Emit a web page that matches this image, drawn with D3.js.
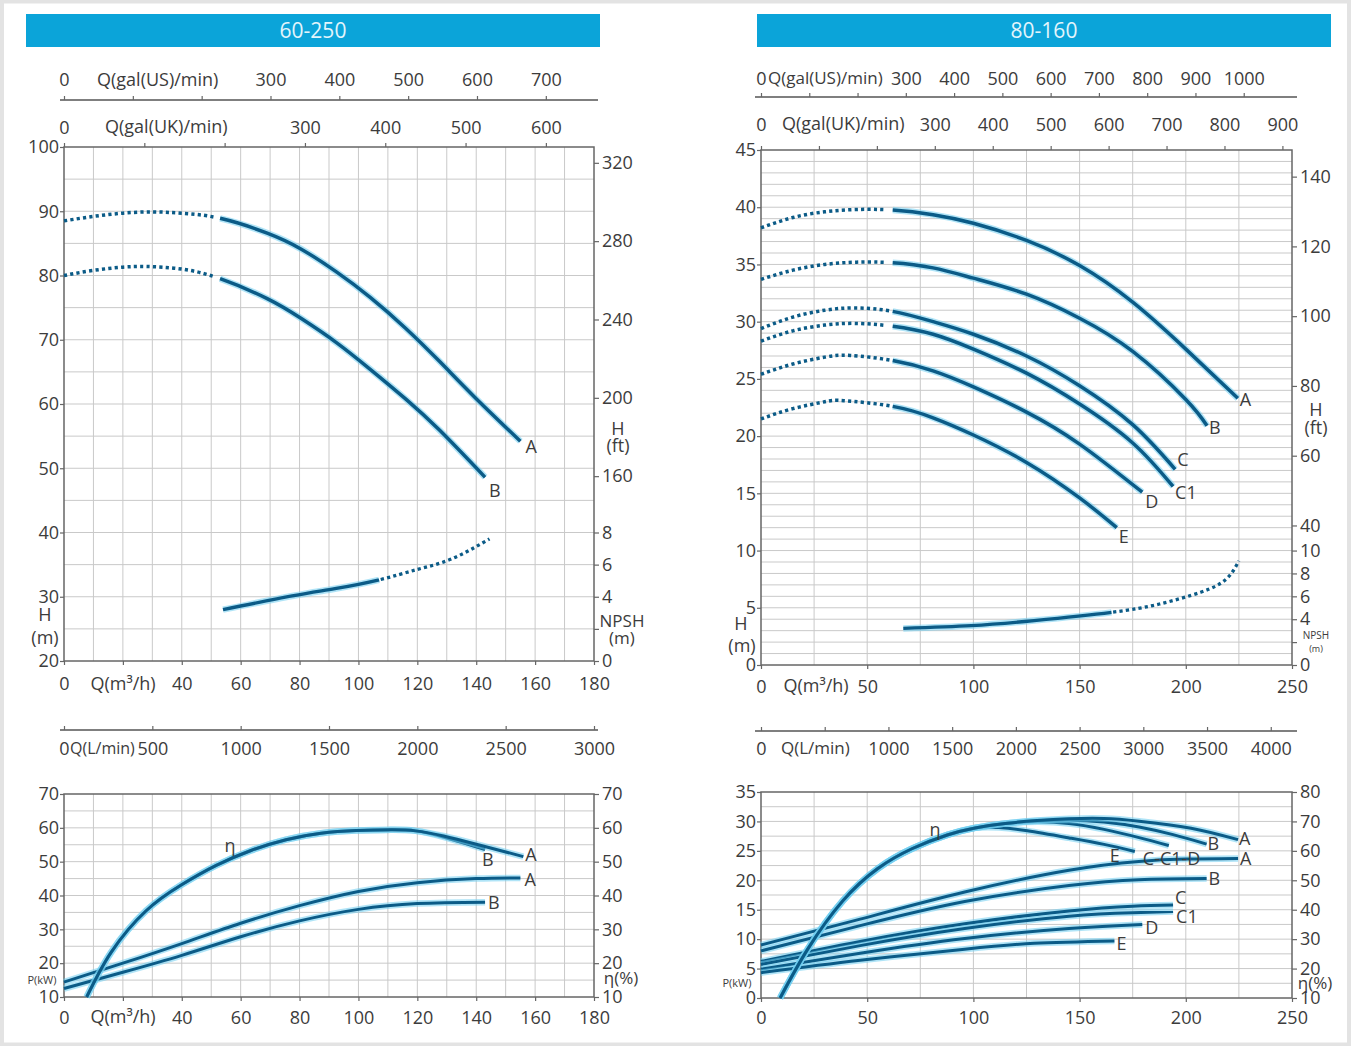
<!DOCTYPE html>
<html><head><meta charset="utf-8">
<script src="https://cdnjs.cloudflare.com/ajax/libs/d3/7.8.5/d3.min.js"></script>
<style>
html,body{margin:0;padding:0;background:#fff;}
svg{display:block;}
text{font-family:"Open Sans","DejaVu Sans",sans-serif;fill:#3c3c3c;}
.tk text{font-size:18px;}
</style></head><body>
<svg id="c" width="1353" height="1046"></svg>
<script>
// ---------------- DATA ----------------
const titles = ["60-250", "80-160"];

// Left panel (60-250) – H-Q
const lt_qTicks = [0,20,40,60,80,100,120,140,160,180];
const lt_hTicks = [20,30,40,50,60,70,80,90,100];
const lt_ftTicks = [160,200,240,280,320];
const lt_npshTicks = [0,2,4,6,8];
const lt_usTicks = [0,100,200,300,400,500,600,700];
const lt_ukTicks = [0,100,200,300,400,500,600];
const lt_A_dot = [[0,88.5],[10,89.2],[20,89.7],[30,89.9],[40,89.7],[53,88.9]];
const lt_A = [[53,88.9],[69,86.6],[80.6,84.1],[92.4,80.6],[104,76.6],[116,71.8],[127.6,66.6],[139.4,61.1],[155,54.2]];
const lt_B_dot = [[0,80.0],[10,80.8],[20,81.3],[28,81.4],[40,81.0],[53,79.5]];
const lt_B = [[53,79.5],[69,76.4],[80.6,73.3],[92.4,69.6],[104,65.4],[116,60.8],[127.6,55.9],[143,48.6]];
const lt_npsh = [[54,3.2],[77.5,4.05],[92,4.5],[107,5.05]];
const lt_npsh_dot = [[107,5.05],[120,5.7],[131.6,6.35],[144.5,7.6]];

// Left panel – P / eta
const lb_pTicks = [10,20,30,40,50,60,70];
const lb_etaTicks = [10,20,30,40,50,60,70];
const lb_lminTicks = [0,500,1000,1500,2000,2500,3000];
const lb_eta = [[7.7,10],[16,23.2],[27.9,35.5],[39.8,43.1],[51.7,48.9],[63.5,53.3],[75.4,56.5],[87.3,58.4],[99.2,59.2],[111,59.4],[119.4,59.1]];
const lb_eta_A = [[119.4,59.1],[128.9,57.6],[140.7,55.0],[156,51.5]];
const lb_eta_B = [[119.4,59.1],[130,57.0],[143,53.6]];
const lb_P_A = [[0,14.4],[20,20.0],[40,25.8],[60,31.8],[80,37.0],[100,41.2],[120,43.8],[140,45.0],[155,45.2]];
const lb_P_B = [[0,12.5],[20,17.3],[40,22.3],[60,27.8],[80,32.5],[100,35.9],[120,37.6],[143,38.0]];

// Right panel (80-160) – H-Q
const rt_qTicks = [0,50,100,150,200,250];
const rt_hTicks = [0,5,10,15,20,25,30,35,40,45];
const rt_ftTicks = [40,60,80,100,120,140];
const rt_npshTicks = [0,2,4,6,8,10];
const rt_usTicks = [0,100,200,300,400,500,600,700,800,900,1000];
const rt_ukTicks = [0,100,200,300,400,500,600,700,800,900];
const rt_A_dot = [[0,38.2],[15,39.1],[30,39.6],[45,39.8],[62,39.75]];
const rt_A = [[62,39.75],[81,39.35],[100,38.6],[125,37.1],[150,34.9],[175,31.7],[200,27.6],[224.5,23.3]];
const rt_B_dot = [[0,33.7],[15,34.5],[30,35.0],[45,35.2],[62,35.15]];
const rt_B = [[62,35.15],[81,34.7],[100,33.8],[125,32.4],[150,30.3],[175,27.4],[200,23.2],[210,20.9]];
const rt_C_dot = [[0,29.4],[15,30.4],[30,31.0],[44,31.2],[62,30.9]];
const rt_C = [[62,30.9],[81,30.0],[100,28.9],[125,27.0],[150,24.4],[175,21.0],[195,17.1]];
const rt_C1_dot = [[0,28.3],[15,29.2],[30,29.7],[44,29.85],[62,29.6]];
const rt_C1 = [[62,29.6],[81,28.9],[100,27.6],[125,25.5],[150,22.8],[175,19.4],[194,15.6]];
const rt_D_dot = [[0,25.4],[15,26.3],[30,26.9],[42,27.05],[62,26.6]];
const rt_D = [[62,26.6],[81,25.7],[100,24.3],[125,22.1],[150,19.3],[179.5,15.1]];
const rt_E_dot = [[0,21.5],[15,22.4],[30,23.0],[39,23.1],[62,22.6]];
const rt_E = [[62,22.6],[81,21.6],[100,20.1],[125,17.7],[150,14.6],[167.5,12.0]];
const rt_npsh = [[67,3.2],[99,3.44],[128.6,3.88],[165,4.6]];
const rt_npsh_dot = [[165,4.6],[187.6,5.33],[207,6.36],[219,7.5],[225,9.1]];

// Right panel – P / eta
const rb_pTicks = [0,5,10,15,20,25,30,35];
const rb_etaTicks = [10,20,30,40,50,60,70,80];
const rb_lminTicks = [0,500,1000,1500,2000,2500,3000,3500,4000];
const rb_eta = [[9,10],[22,26.6],[38.5,43],[55,54],[71.3,60.8],[87.7,65.4],[100.8,67.8],[115,69.3]];
const rb_eta_A = [[115,69.3],[130,70.3],[145,70.9],[161.5,71.0],[178,70.1],[202.5,67.7],[224.6,63.8]];
const rb_eta_B = [[115,69.3],[130,70.2],[145,70.5],[161.5,69.8],[178,68.1],[194,65.5],[209.8,62.3]];
const rb_eta_CD = [[115,69.3],[130,69.9],[145,69.3],[161.5,67.3],[178,64.5],[192,61.8]];
const rb_eta_E = [[100.8,67.8],[112,67.9],[125.4,66.8],[145,64.4],[161.5,62.2],[176,59.8]];
const rb_P_A = [[0,9.0],[46.7,13.4],[95.9,18.0],[145,21.7],[177.9,23.2],[200,23.6],[224.6,23.7]];
const rb_P_B = [[0,8.0],[46.7,12.3],[95.9,16.4],[145,19.1],[177.9,20.1],[209.8,20.3]];
const rb_P_C = [[0,6.2],[46.7,9.6],[95.9,12.6],[145,14.8],[175,15.6],[194,15.8]];
const rb_P_C1 = [[0,5.7],[46.7,8.9],[95.9,11.8],[145,13.9],[175,14.5],[194,14.7]];
const rb_P_D = [[0,4.9],[46.7,7.6],[95.9,10.1],[145,11.8],[179.5,12.5]];
const rb_P_E = [[0,4.3],[46.7,6.4],[95.9,8.3],[128.7,9.3],[166.4,9.7]];

// unit conversions
const M3H_TO_UKGPM = 3.6662, M3H_TO_LMIN = 16.6667, M_TO_FT = 3.2808;
const lt_usMax = 770, rt_usMax = 1100;   // gal(US)/min at right end of the flow axis

// ---------------- DRAW ----------------
const svg = d3.select("#c");
svg.append("rect").attr("width",1353).attr("height",1046).attr("fill","#fff");
svg.append("rect").attr("x",2).attr("y",1.5).attr("width",1347).attr("height",1043)
  .attr("fill","none").attr("stroke","#e3e3e3").attr("stroke-width",4);

const DARK = "#0b5b87", GLOW = "#6fcdf0", GRID = "#c9c9c9", AX = "#666";
const fmt = d3.format("d");

function title(x, w, t){
  svg.append("rect").attr("x",x).attr("y",14).attr("width",w).attr("height",33).attr("fill","#0ba4d9");
  svg.append("text").attr("x",x+w/2).attr("y",38).attr("text-anchor","middle")
    .style("font-size","21px").style("fill","#e2f5fc").text(t);
}
function grid(x, y, xStep, yStep){
  const g = svg.append("g");
  const [x0,x1] = x.domain(), [y0,y1] = y.domain();
  for(let v=x0+xStep; v<x1-1e-6; v+=xStep)
    g.append("line").attr("x1",x(v)).attr("x2",x(v)).attr("y1",y(y0)).attr("y2",y(y1)).attr("stroke",GRID).attr("stroke-width",1);
  for(let v=y0+yStep; v<y1-1e-6; v+=yStep)
    g.append("line").attr("x1",x(x0)).attr("x2",x(x1)).attr("y1",y(v)).attr("y2",y(v)).attr("stroke",GRID).attr("stroke-width",1);
  g.append("rect").attr("x",x(x0)).attr("y",y(y1)).attr("width",x(x1)-x(x0)).attr("height",y(y0)-y(y1))
    .attr("fill","none").attr("stroke",AX).attr("stroke-width",1.5);
}
function styleAx(g){
  g.attr("class","tk").attr("font-family",null).attr("font-size",null);
  g.select(".domain").remove();
  g.selectAll(".tick line").attr("stroke",AX).attr("stroke-width",1.2);
  return g;
}
function axis(gen, tx, ty){
  return styleAx(svg.append("g").attr("transform",`translate(${tx},${ty})`).call(gen));
}
function hline(x1,x2,y){ svg.append("line").attr("x1",x1).attr("x2",x2).attr("y1",y).attr("y2",y).attr("stroke","#555").attr("stroke-width",1.6); }
function txt(x,y,t,size,anchor){
  return svg.append("text").attr("x",x).attr("y",y).attr("text-anchor",anchor||"middle").style("font-size",(size||18)+"px").text(t);
}
function lenAtX(node, xt){
  let lo=0, hi=node.getTotalLength();
  for(let i=0;i<40;i++){ const m=(lo+hi)/2; if(node.getPointAtLength(m).x < xt) lo=m; else hi=m; }
  return lo;
}
// draws one smooth curve made of two consecutive pieces; the dotted piece is first or second
function curve2(first, second, x, y, firstDotted, secondDotted){
  const data = first.concat(second.slice(1));
  const line = d3.line().x(d=>x(d[0])).y(d=>y(d[1])).curve(d3.curveNatural);
  const d = line(data);
  const glow = svg.append("path").attr("d",d).attr("fill","none").attr("stroke",GLOW)
      .attr("stroke-width",6.5).attr("opacity",0.55);
  const main = svg.append("path").attr("d",d).attr("fill","none").attr("stroke",DARK).attr("stroke-width",3);
  const node = main.node(), total = node.getTotalLength();
  const L1 = lenAtX(node, x(second[0][0]));
  if(firstDotted){
    const arr=[]; let s=0;
    while(s+6.4<=L1){ arr.push(3.2,3.2); s+=6.4; }
    arr.push(0, L1-s, total+20, 0);
    main.attr("stroke-dasharray",arr.join(",")).attr("stroke-width",3.5);
    glow.attr("stroke-dasharray",`0,${L1},${total+20},0`);
  } else if(secondDotted){
    const arr=[L1,1.6]; let s=L1+1.6;
    while(s<total+10){ arr.push(3.2,3.2); s+=6.4; }
    main.attr("stroke-dasharray",arr.join(",")).attr("stroke-width",3.3);
    glow.attr("stroke-dasharray",`${L1},${total+20}`);
  }
}
function curve(data, x, y){ curve2(data.slice(0,1), data, x, y, false, false); }
function endLabel(data, x, y, t, dx, dy){
  const p = data[data.length-1];
  txt(x(p[0])+dx, y(p[1])+dy, t, 18, "start");
}
function branch(main, br){ return main.filter(d=>d[0] < br[0][0]).concat(br); }

// ===== LEFT TOP =====
title(26, 574, titles[0]);
const xL = d3.scaleLinear([0,180],[64,594]);
const yLT = d3.scaleLinear([20,100],[661,147]);
const ftLT = d3.scaleLinear([20*M_TO_FT,100*M_TO_FT],[661,147]);
const npLT = d3.scaleLinear([0,8],[yLT(20),yLT(40)]);
const usL = d3.scaleLinear([0,lt_usMax],[64,594]);
const ukL = d3.scaleLinear([0,180*M3H_TO_UKGPM],[64,594]);
grid(xL, yLT, 10, 5);
hline(60,598,100);
axis(d3.axisTop(usL).tickValues(lt_usTicks).tickSize(4).tickPadding(10).tickFormat(d=>(d===100||d===200)?"":fmt(d)),0,100);
txt(97,86,"Q(gal(US)/min)",18,"start");
axis(d3.axisTop(ukL).tickValues(lt_ukTicks).tickSize(4).tickPadding(9).tickFormat(d=>(d===100||d===200)?"":fmt(d)),0,147);
txt(105,133,"Q(gal(UK)/min)",18,"start");
axis(d3.axisLeft(yLT).tickValues(lt_hTicks).tickSize(4).tickPadding(1),64,0);
axis(d3.axisRight(ftLT).tickValues(lt_ftTicks).tickSize(5).tickPadding(3),594,0);
axis(d3.axisRight(npLT).tickValues(lt_npshTicks).tickSize(5).tickPadding(3).tickFormat(d=>d===2?"":fmt(d)),594,0);
axis(d3.axisBottom(xL).tickValues(lt_qTicks).tickSize(4).tickPadding(12).tickFormat(d=>d===20?"":fmt(d)),0,661);
txt(123,690,"Q(m³/h)",18);
txt(45,621,"H",18); txt(45,644,"(m)",18);
txt(618,435,"H",18); txt(618,452,"(ft)",18);
txt(622,627,"NPSH",17); txt(622,644,"(m)",17);
curve2(lt_A_dot, lt_A, xL, yLT, true, false);
curve2(lt_B_dot, lt_B, xL, yLT, true, false);
curve2(lt_npsh, lt_npsh_dot, xL, npLT, false, true);
endLabel(lt_A,xL,yLT,"A",5,12);
endLabel(lt_B,xL,yLT,"B",4,20);

// ===== LEFT BOTTOM =====
const yLB = d3.scaleLinear([10,70],[997,794]);
const etaLB = d3.scaleLinear([10,70],[997,794]);
const lminL = d3.scaleLinear([0,180*M3H_TO_LMIN],[64,594]);
grid(xL, yLB, 10, 5);
hline(60,598,730);
axis(d3.axisBottom(lminL).tickValues(lb_lminTicks).tickSize(-4).tickPadding(12).tickFormat(fmt),0,730);
txt(70,754,"Q(L/min)",16,"start");
axis(d3.axisLeft(yLB).tickValues(lb_pTicks).tickSize(4).tickPadding(1),64,0);
axis(d3.axisRight(etaLB).tickValues(lb_etaTicks).tickSize(5).tickPadding(3),594,0);
axis(d3.axisBottom(xL).tickValues(lt_qTicks).tickSize(4).tickPadding(10).tickFormat(d=>d===20?"":fmt(d)),0,997);
txt(123,1023,"Q(m³/h)",18);
txt(42,984,"P(kW)",11);
txt(621,984,"η(%)",17);
curve(lb_P_A,xL,yLB); curve(lb_P_B,xL,yLB);
curve(branch(lb_eta,lb_eta_B),xL,etaLB);
curve(branch(lb_eta,lb_eta_A),xL,etaLB);
txt(230,852,"η",18);
endLabel(lb_eta_A,xL,etaLB,"A",2,4);
endLabel(lb_eta_B,xL,etaLB,"B",-3,17);
endLabel(lb_P_A,xL,yLB,"A",4,8);
endLabel(lb_P_B,xL,yLB,"B",3,7);

// ===== RIGHT TOP =====
title(757, 574, titles[1]);
const xR = d3.scaleLinear([0,250],[761,1292]);
const yRT = d3.scaleLinear([0,45],[665,150]);
const ftRT = d3.scaleLinear([0,45*M_TO_FT],[665,150]);
const usR = d3.scaleLinear([0,rt_usMax],[761,1292]);
const ukR = d3.scaleLinear([0,250*M3H_TO_UKGPM],[761,1292]);
grid(xR, yRT, 25, 1);
hline(755,1297,97);
axis(d3.axisTop(usR).tickValues(rt_usTicks).tickSize(4).tickPadding(8).tickFormat(d=>(d===100||d===200)?"":fmt(d)),0,97);
txt(768,84,"Q(gal(US)/min)",17,"start");
axis(d3.axisTop(ukR).tickValues(rt_ukTicks).tickSize(4).tickPadding(15).tickFormat(d=>(d===100||d===200)?"":fmt(d)),0,150);
txt(782,130,"Q(gal(UK)/min)",18,"start");
axis(d3.axisLeft(yRT).tickValues(rt_hTicks).tickSize(4).tickPadding(1),761,0);
axis(d3.axisRight(ftRT).tickValues(rt_ftTicks).tickSize(5).tickPadding(3),1292,0);
axis(d3.axisRight(yRT).tickValues(rt_npshTicks).tickSize(5).tickPadding(3).tickFormat(d=>d===2?"":fmt(d)),1292,0);
axis(d3.axisBottom(xR).tickValues(rt_qTicks).tickSize(4).tickPadding(11).tickFormat(fmt),0,665);
txt(816,692,"Q(m³/h)",18);
txt(741,630,"H",18); txt(742,652,"(m)",18);
txt(1316,416,"H",18); txt(1316,434,"(ft)",18);
txt(1316,639,"NPSH",10); txt(1316,652,"(m)",9);
[[rt_A_dot,rt_A],[rt_B_dot,rt_B],[rt_C_dot,rt_C],[rt_C1_dot,rt_C1],[rt_D_dot,rt_D],[rt_E_dot,rt_E]].forEach(([d,s])=>{
  curve2(d, s, xR, yRT, true, false);
});
curve2(rt_npsh, rt_npsh_dot, xR, yRT, false, true);
endLabel(rt_A,xR,yRT,"A",2,8);
endLabel(rt_B,xR,yRT,"B",2,8);
endLabel(rt_C,xR,yRT,"C",2,-3);
endLabel(rt_C1,xR,yRT,"C1",2,13);
endLabel(rt_D,xR,yRT,"D",3,16);
endLabel(rt_E,xR,yRT,"E",2,15);

// ===== RIGHT BOTTOM =====
const yRB = d3.scaleLinear([0,35],[998,792]);
const etaRB = d3.scaleLinear([10,80],[998,792]);
const lminR = d3.scaleLinear([0,250*M3H_TO_LMIN],[761,1292]);
grid(xR, yRB, 25, 2.5);
hline(755,1297,731);
axis(d3.axisBottom(lminR).tickValues(rb_lminTicks).tickSize(-4).tickPadding(11).tickFormat(d=>d===500?"":fmt(d)),0,731);
txt(781,754,"Q(L/min)",17,"start");
axis(d3.axisLeft(yRB).tickValues(rb_pTicks).tickSize(4).tickPadding(1),761,0);
axis(d3.axisRight(etaRB).tickValues(rb_etaTicks).tickSize(5).tickPadding(3),1292,0);
axis(d3.axisBottom(xR).tickValues(rt_qTicks).tickSize(4).tickPadding(9).tickFormat(fmt),0,998);
txt(737,987,"P(kW)",11);
txt(1315,989,"η(%)",17);
[rb_P_A,rb_P_B,rb_P_C,rb_P_C1,rb_P_D,rb_P_E].forEach(d=>curve(d,xR,yRB));
[rb_eta_E,rb_eta_CD,rb_eta_B,rb_eta_A].forEach(b=>curve(branch(rb_eta,b),xR,etaRB));
txt(935,836,"η",18);
endLabel(rb_eta_A,xR,etaRB,"A",1,5);
endLabel(rb_eta_B,xR,etaRB,"B",1,6);
endLabel(rb_eta_CD,xR,etaRB,"C-C1-D",-26,19);
endLabel(rb_eta_E,xR,etaRB,"E",-25,11);
endLabel(rb_P_A,xR,yRB,"A",2,6);
endLabel(rb_P_B,xR,yRB,"B",2,6);
endLabel(rb_P_C,xR,yRB,"C",2,-1);
endLabel(rb_P_C1,xR,yRB,"C1",3,12);
endLabel(rb_P_D,xR,yRB,"D",3,10);
endLabel(rb_P_E,xR,yRB,"E",2,9);
</script>
</body></html>
